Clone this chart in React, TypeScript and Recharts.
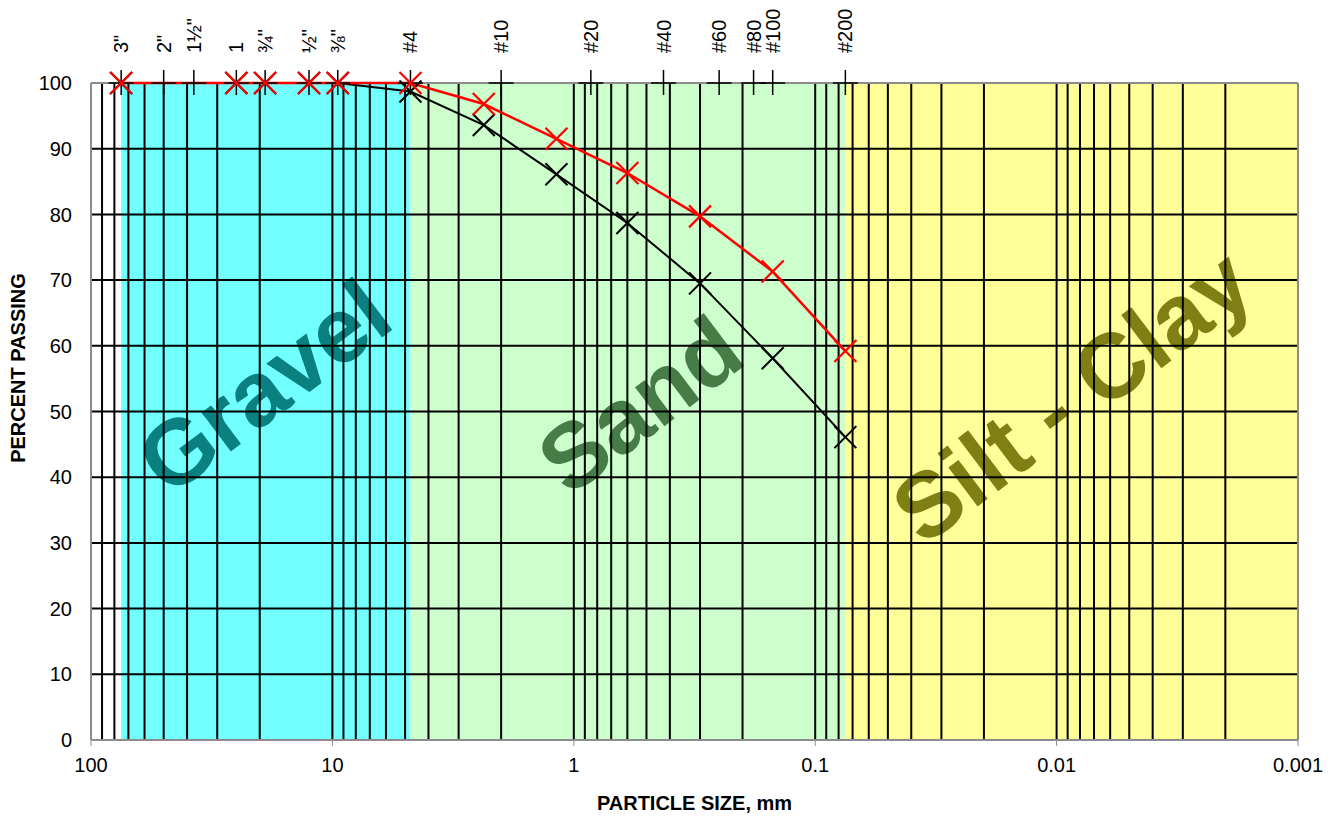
import React from "react";
import { ComposedChart, Line, XAxis, YAxis, ReferenceArea, ReferenceLine } from "recharts";

const FONT = "'Liberation Sans', Arial, Helvetica, sans-serif";

// sieve designations shown along the top edge
const SIEVE_LABELS = ['3"', '2"', "1½\"", "1", "¾\"", "½\"", "⅜\"", "#4", "#10", "#20", "#40", "#60", "#80", "#100", "#200"];
const SIEVE_SIZES = [75, 50, 37.5, 25, 19, 12.5, 9.5, 4.75, 2.0, 0.85, 0.425, 0.25, 0.18, 0.15, 0.075];

// test results (percent passing)
const TEST_SIZES = [75, 25, 19, 12.5, 9.5, 4.75, 2.36, 1.18, 0.6, 0.3, 0.15, 0.075];
const SAMPLE_RED = [100, 100, 100, 100, 100, 100, 96.8, 91.5, 86.3, 79.7, 71.3, 59.2];
const SAMPLE_BLACK = [100, 100, 100, 100, 100, 98.7, 93.6, 86.1, 78.7, 69.5, 58.1, 46.1];

const X_TICKS = [100, 10, 1, 0.1, 0.01, 0.001];
const Y_TICKS = [0, 10, 20, 30, 40, 50, 60, 70, 80, 90, 100];

const GRID_MANTISSAS = [1, 2, 3, 4, 5, 6, 7, 8, 9];
const GRID_DECADES = [0.001, 0.01, 0.1, 1, 10];
const GRID_X = GRID_DECADES.flatMap((d) => GRID_MANTISSAS.map((m) => +(m * d).toPrecision(3))).filter(
  (v) => v > 0.001 && v < 100
);
const GRID_Y = [10, 20, 30, 40, 50, 60, 70, 80, 90];

const BANDS = [
  { name: "Gravel", from: 75, to: 4.75, fill: "#72ffff", text: "#0b8080", dx: -2, dy: -25 },
  { name: "Sand", from: 4.75, to: 0.075, fill: "#ccffcc", text: "#467d46", dx: 12, dy: -7 },
  { name: "Silt - Clay", from: 0.075, to: 0.001, fill: "#ffff99", text: "#807f14", dx: 0, dy: -16 },
];

const sieveData = SIEVE_SIZES.map((size, i) => ({ size, pct: 100, label: SIEVE_LABELS[i] }));
const redData = TEST_SIZES.map((size, i) => ({ size, pct: SAMPLE_RED[i] }));
const blackData = TEST_SIZES.map((size, i) => ({ size, pct: SAMPLE_BLACK[i] }));

const bandShape = (band: any) => (props: any) => {
  const { x, y, width, height } = props;
  const cx = x + width / 2 + band.dx;
  const cy = y + height / 2 + band.dy;
  return (
    <g>
      <rect x={x} y={y} width={width} height={height} fill={band.fill} />
      <text
        x={cx}
        y={cy}
        textAnchor="middle"
        dominantBaseline="central"
        fontFamily={FONT}
        fontWeight="bold"
        fontSize={92}
        fill={band.text}
        transform={`rotate(-37 ${cx} ${cy})`}
      >
        {band.name}
      </text>
    </g>
  );
};

const sieveMark = (props: any) => {
  const { cx, cy, index, payload } = props;
  if (cx == null || cy == null) return <g key={`s-${index}`} />;
  return (
    <g key={`s-${index}`}>
      <line x1={cx} y1={cy - 13} x2={cx} y2={cy + 12} stroke="#000" strokeWidth={1.5} />
      <line x1={cx - 12.5} y1={cy} x2={cx + 12.5} y2={cy} stroke="#000" strokeWidth={1.5} />
      <text
        transform={`translate(${cx + 7} ${cy - 30}) rotate(-90)`}
        fontFamily={FONT}
        fontSize={20}
        fill="#000"
        textAnchor="start"
      >
        {payload.label}
      </text>
    </g>
  );
};

const crossMark = (color: string, width: number) => (props: any) => {
  const { cx, cy, index } = props;
  if (cx == null || cy == null) return <g key={`c-${color}-${index}`} />;
  const r = 11;
  return (
    <g key={`c-${color}-${index}`}>
      <line x1={cx - r} y1={cy - r} x2={cx + r} y2={cy + r} stroke={color} strokeWidth={width} />
      <line x1={cx - r} y1={cy + r} x2={cx + r} y2={cy - r} stroke={color} strokeWidth={width} />
    </g>
  );
};

export default function App() {
  return (
    <div style={{ position: "absolute", left: 0, top: 0, background: "#fff" }}>
      <ComposedChart width={1338} height={818} margin={{ top: 83, right: 40, bottom: 0, left: 0 }}>
        <XAxis
          xAxisId={0}
          dataKey="size"
          type="number"
          scale="log"
          domain={[0.001, 100]}
          reversed
          ticks={X_TICKS}
          allowDataOverflow
          height={78}
          tickSize={6}
          tickMargin={12}
          axisLine={{ stroke: "#8c8c8c", strokeWidth: 2 }}
          tickLine={{ stroke: "#8c8c8c" }}
          tick={{ fill: "#000", fontSize: 20, fontFamily: FONT }}
          tickFormatter={(v: number) => String(v)}
          label={{
            content: (p: any) => (
              <text
                x={p.viewBox.x + p.viewBox.width / 2}
                y={810}
                textAnchor="middle"
                fontFamily={FONT}
                fontWeight="bold"
                fontSize={20}
                fill="#000"
              >
                PARTICLE SIZE, mm
              </text>
            ),
          }}
        />
        <YAxis
          yAxisId={0}
          type="number"
          domain={[0, 100]}
          ticks={Y_TICKS}
          width={91}
          axisLine={false}
          tickLine={false}
          tickSize={0}
          tickMargin={19}
          tick={{ fill: "#000", fontSize: 20, fontFamily: FONT }}
          label={{
            content: () => (
              <text
                transform="translate(25 368) rotate(-90)"
                textAnchor="middle"
                fontFamily={FONT}
                fontWeight="bold"
                fontSize={20}
                fill="#000"
              >
                PERCENT PASSING
              </text>
            ),
          }}
        />

        {BANDS.map((b) => (
          <ReferenceArea key={b.name} x1={b.from} x2={b.to} y1={0} y2={100} shape={bandShape(b)} />
        ))}

        {GRID_X.map((v) => (
          <ReferenceLine key={`gx-${v}`} x={v} stroke="#000" strokeWidth={2} />
        ))}
        {GRID_Y.map((v) => (
          <ReferenceLine key={`gy-${v}`} y={v} stroke="#000" strokeWidth={2} />
        ))}
        <ReferenceLine x={100} stroke="#8c8c8c" strokeWidth={2} />
        <ReferenceLine x={0.001} stroke="#8c8c8c" strokeWidth={2} />
        <ReferenceLine y={100} stroke="#8c8c8c" strokeWidth={2} />

        <Line
          data={sieveData}
          dataKey="pct"
          stroke="none"
          dot={sieveMark}
          activeDot={false}
          legendType="none"
          isAnimationActive={false}
        />
        <Line
          data={blackData}
          dataKey="pct"
          type="linear"
          stroke="#000"
          strokeWidth={2}
          dot={crossMark("#000", 2)}
          activeDot={false}
          isAnimationActive={false}
        />
        <Line
          data={redData}
          dataKey="pct"
          type="linear"
          stroke="#ff0000"
          strokeWidth={2.5}
          dot={crossMark("#ff0000", 2.2)}
          activeDot={false}
          isAnimationActive={false}
        />
      </ComposedChart>
    </div>
  );
}
